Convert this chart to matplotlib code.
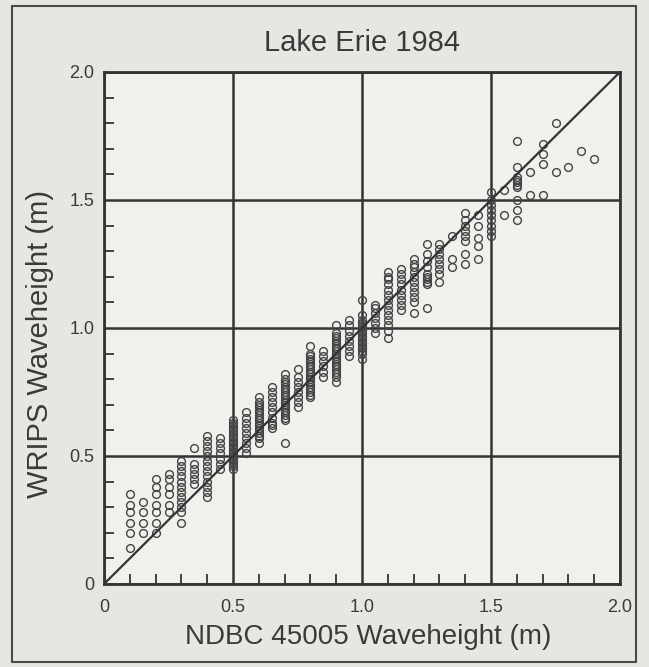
import matplotlib
matplotlib.use("Agg")
import matplotlib.pyplot as plt
from matplotlib.patches import Rectangle
from matplotlib.ticker import MultipleLocator

plt.rcParams['font.family'] = ['Liberation Sans', 'DejaVu Sans']

title = "Lake Erie 1984"
xlabel = "NDBC 45005 Waveheight (m)"
ylabel = "WRIPS Waveheight (m)"
tick_vals = [0, 0.5, 1.0, 1.5, 2.0]
tick_labels = ["0", "0.5", "1.0", "1.5", "2.0"]

# NDBC buoy waveheight bins (x) and WRIPS waveheights observed in each bin (y)
ndbc = [0.10, 0.15, 0.20, 0.25, 0.30, 0.35, 0.40, 0.45, 0.50, 0.55,
        0.60, 0.65, 0.70, 0.75, 0.80, 0.85, 0.90, 0.95, 1.00, 1.05,
        1.10, 1.15, 1.20, 1.25, 1.30, 1.35, 1.40, 1.45, 1.50, 1.55,
        1.60, 1.65, 1.70, 1.75, 1.80, 1.85, 1.90]
wrips = [
    [0.14, 0.20, 0.24, 0.28, 0.31, 0.35],
    [0.20, 0.24, 0.28, 0.32],
    [0.20, 0.24, 0.28, 0.31, 0.35, 0.38, 0.41],
    [0.28, 0.31, 0.35, 0.38, 0.41, 0.43],
    [0.24, 0.28, 0.30, 0.32, 0.34, 0.36, 0.38, 0.40, 0.42, 0.44, 0.46, 0.48],
    [0.39, 0.41, 0.43, 0.45, 0.47, 0.53],
    [0.34, 0.36, 0.38, 0.40, 0.42, 0.44, 0.46, 0.48, 0.50, 0.52, 0.54, 0.56, 0.58],
    [0.45, 0.47, 0.49, 0.51, 0.53, 0.55, 0.57],
    [0.45, 0.46, 0.47, 0.48, 0.49, 0.50, 0.51, 0.52, 0.53, 0.54, 0.55, 0.56,
     0.57, 0.58, 0.59, 0.60, 0.61, 0.62, 0.63, 0.64],
    [0.51, 0.53, 0.55, 0.57, 0.59, 0.61, 0.63, 0.65, 0.67],
    [0.55, 0.57, 0.58, 0.59, 0.60, 0.61, 0.62, 0.63, 0.64, 0.65, 0.66, 0.67,
     0.68, 0.69, 0.70, 0.71, 0.73],
    [0.61, 0.62, 0.63, 0.65, 0.67, 0.69, 0.71, 0.73, 0.75, 0.77],
    [0.55, 0.64, 0.65, 0.66, 0.67, 0.68, 0.69, 0.70, 0.71, 0.72, 0.73, 0.74,
     0.75, 0.76, 0.77, 0.78, 0.79, 0.80, 0.82],
    [0.69, 0.71, 0.73, 0.75, 0.77, 0.79, 0.81, 0.84],
    [0.73, 0.74, 0.75, 0.76, 0.77, 0.78, 0.79, 0.80, 0.81, 0.82, 0.83, 0.84,
     0.85, 0.86, 0.87, 0.88, 0.89, 0.90, 0.93],
    [0.81, 0.83, 0.85, 0.87, 0.89, 0.91],
    [0.79, 0.81, 0.82, 0.83, 0.84, 0.85, 0.86, 0.87, 0.88, 0.89, 0.90, 0.91,
     0.92, 0.93, 0.94, 0.95, 0.96, 0.97, 0.98, 1.01],
    [0.89, 0.91, 0.93, 0.95, 0.97, 0.99, 1.01, 1.03],
    [0.88, 0.90, 0.91, 0.92, 0.93, 0.94, 0.95, 0.96, 0.97, 0.98, 0.99, 1.00,
     1.01, 1.02, 1.03, 1.05, 1.11],
    [0.98, 1.00, 1.02, 1.04, 1.06, 1.08, 1.09],
    [0.96, 0.99, 1.01, 1.03, 1.05, 1.07, 1.09, 1.11, 1.13, 1.15, 1.17, 1.19,
     1.20, 1.22],
    [1.07, 1.09, 1.11, 1.13, 1.15, 1.17, 1.19, 1.21, 1.23],
    [1.06, 1.10, 1.12, 1.14, 1.16, 1.18, 1.20, 1.22, 1.24, 1.25, 1.27],
    [1.08, 1.17, 1.18, 1.19, 1.20, 1.21, 1.24, 1.26, 1.29, 1.33],
    [1.18, 1.21, 1.23, 1.25, 1.27, 1.29, 1.31, 1.33],
    [1.24, 1.27, 1.36],
    [1.25, 1.29, 1.34, 1.36, 1.38, 1.40, 1.42, 1.45],
    [1.27, 1.32, 1.35, 1.40, 1.44],
    [1.36, 1.38, 1.40, 1.42, 1.44, 1.46, 1.48, 1.50, 1.53],
    [1.44, 1.54],
    [1.42, 1.46, 1.50, 1.55, 1.56, 1.57, 1.58, 1.59, 1.63, 1.73],
    [1.52, 1.61],
    [1.52, 1.64, 1.68, 1.72],
    [1.61, 1.80],
    [1.63],
    [1.69],
    [1.66],
]

ink = "#333333"
fig = plt.figure(figsize=(6.49, 6.67), dpi=100, facecolor="#e7e6e2")
# outer frame of the figure panel
fig.patches.append(Rectangle((12 / 649, 5 / 667), 624 / 649, 656 / 667,
                             transform=fig.transFigure, fill=False,
                             edgecolor="#4a4a4a", linewidth=1.5))

ax = fig.add_axes([104 / 649, 1 - 584 / 667, 516 / 649, 512 / 667])
ax.set_facecolor("#f1f0ed")
ax.set_xlim(0, 2.0)
ax.set_ylim(0, 2.0)

for xv, ys in zip(ndbc, wrips):
    ax.plot([xv] * len(ys), ys, linestyle="none", marker="o", ms=5.6,
            mfc="none", mec="#444444", mew=1.0, zorder=3)

ax.plot([0, 2.0], [0, 2.0], color=ink, lw=1.6, zorder=4)

ax.set_xticks(tick_vals)
ax.set_xticklabels(tick_labels)
ax.set_yticks(tick_vals)
ax.set_yticklabels(tick_labels)
ax.xaxis.set_minor_locator(MultipleLocator(0.1))
ax.yaxis.set_minor_locator(MultipleLocator(0.1))
ax.tick_params(which="major", direction="in", length=0, labelsize=13,
               labelcolor="#3a3a3a")
ax.tick_params(axis="x", which="major", pad=11)
ax.tick_params(axis="y", which="major", pad=7)
ax.tick_params(which="minor", direction="in", length=7, width=1.3, color=ink)
ax.grid(True, which="major", color=ink, lw=1.8, zorder=2)
for s in ax.spines.values():
    s.set_color(ink)
    s.set_linewidth(2.0)

ax.set_title(title, fontsize=21, color="#3a3a3a", pad=15)
ax.set_xlabel(xlabel, fontsize=20, color="#3a3a3a", va="center")
ax.set_ylabel(ylabel, fontsize=21, color="#3a3a3a", va="center")
ax.xaxis.set_label_coords(0.512, -0.1035)
ax.yaxis.set_label_coords(-0.124, 0.469)

fig.savefig("out.png", dpi=100, facecolor=fig.get_facecolor())
